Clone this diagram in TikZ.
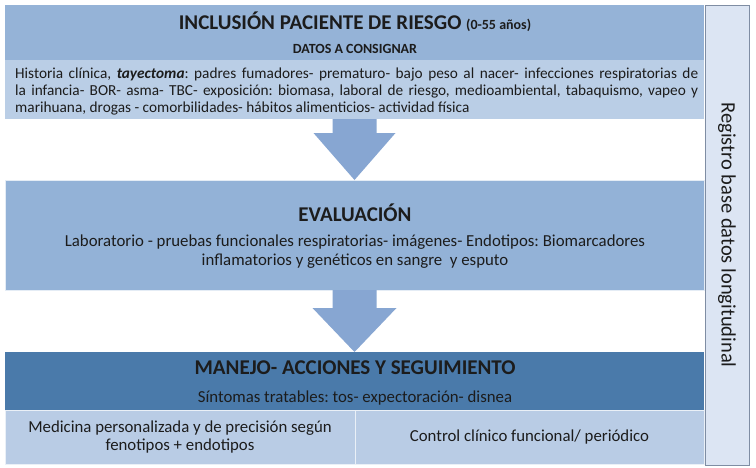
\documentclass[tikz,border=0pt]{standalone}
\usepackage{fontspec}
\setmainfont{Carlito}
\usetikzlibrary{calc}
\frenchspacing
\definecolor{hdr}{HTML}{95B3D7}
\definecolor{band}{HTML}{BACEE6}
\definecolor{arr}{HTML}{87A6D2}
\definecolor{evalc}{HTML}{93B2D7}
\definecolor{mandark}{HTML}{4A7AAA}
\definecolor{manlight}{HTML}{B9CCE5}
\definecolor{regfill}{HTML}{DCE5F3}
\definecolor{regline}{HTML}{7F8DA3}
\definecolor{txt}{HTML}{1C1C1C}
\tikzset{
  band/.style={anchor=north west, inner sep=0pt, outer sep=0pt},
  arrowshape/.style={fill=arr, draw=none},
  title/.style={font=\fontsize{21}{25}\selectfont\bfseries, text=txt, inner sep=0pt},
  body/.style={font=\fontsize{16.8}{19}\selectfont, text=txt, inner sep=0pt, align=center},
}
\begin{document}
\begin{tikzpicture}[x=1pt,y=-1pt]
\useasboundingbox (0,0) rectangle (756,467);
\fill[white] (0,0) rectangle (756,467);

% boxes
\node[band, fill=hdr, minimum width=699pt, minimum height=55pt] (inchead) at (5,5) {};
\node[band, fill=band, minimum width=699pt, minimum height=59pt] (incbody) at (5,60) {};
\node[band, fill=evalc, draw=white!75!evalc, line width=0.6pt, minimum width=699pt, minimum height=110pt] (eval) at (5,180) {};
\node[band, fill=mandark, minimum width=699pt, minimum height=58pt] (manhead) at (5,352) {};
\node[band, fill=manlight, draw=white!70!manlight, line width=0.6pt, minimum width=350pt, minimum height=54pt] (cellL) at (5,410) {};
\node[band, fill=manlight, draw=white!70!manlight, line width=0.6pt, minimum width=349pt, minimum height=54pt] (cellR) at (355,410) {};
\node[band, fill=regfill, draw=regline, line width=0.9pt, minimum width=44pt, minimum height=460pt] (reg) at (705,5) {};

% arrows
\fill[arrowshape] ($(incbody.south)+(-22,0)$) -- ($(incbody.south)+(22,0)$) -- ($(incbody.south)+(22,14)$) -- ($(incbody.south)+(41,14)$) -- (eval.north) -- ($(incbody.south)+(-41,14)$) -- ($(incbody.south)+(-22,14)$) -- cycle;
\fill[arrowshape] ($(eval.south)+(-22,0)$) -- ($(eval.south)+(22,0)$) -- ($(eval.south)+(22,18)$) -- ($(eval.south)+(42,18)$) -- (manhead.north) -- ($(eval.south)+(-42,18)$) -- ($(eval.south)+(-22,18)$) -- cycle;

% texts
\node[title] (t1) at (355,22) {INCLUSIÓN PACIENTE DE RIESGO {\fontsize{14}{16}\selectfont (0-55 años)}};
\node[font=\fontsize{14}{16}\selectfont\bfseries, text=txt, inner sep=0pt] (t1b) at (355,49) {DATOS A CONSIGNAR};
\node[font=\fontsize{15.3}{17}\selectfont, text=txt, inner sep=0pt, align=left, anchor=west] (t1c) at (15,91) {\hbox to 683pt{Historia clínica, \textbf{\textit{tayectoma}}: padres fumadores- prematuro- bajo peso al nacer- infecciones respiratorias de}\\
\hbox to 683pt{la infancia- BOR- asma- TBC- exposición: biomasa, laboral de riesgo, medioambiental, tabaquismo, vapeo y}\\
marihuana, drogas - comorbilidades- hábitos alimenticios- actividad física};

\node[title] (t2) at (355,213) {EVALUACIÓN};
\node[body] (t2b) at (355,252) {Laboratorio - pruebas funcionales respiratorias- imágenes- Endotipos: Biomarcadores\\ inflamatorios y genéticos en sangre\ \ y esputo};

\node[title] (t3) at (355,368) {MANEJO- ACCIONES Y SEGUIMIENTO};
\node[body] (t3b) at (355,398) {Síntomas tratables: tos- expectoración- disnea};
\node[body, font=\fontsize{16.8}{18.5}\selectfont] (t3c) at (cellL.center) {Medicina personalizada y de precisión según\\ fenotipos + endotipos};
\node[body] (t3d) at (cellR.center) {Control clínico funcional/ periódico};

\node[font=\fontsize{20.5}{24}\selectfont, text=txt, rotate=-90, inner sep=0pt] (t4) at (reg.center) {Registro base datos longitudinal};
\end{tikzpicture}
\end{document}
